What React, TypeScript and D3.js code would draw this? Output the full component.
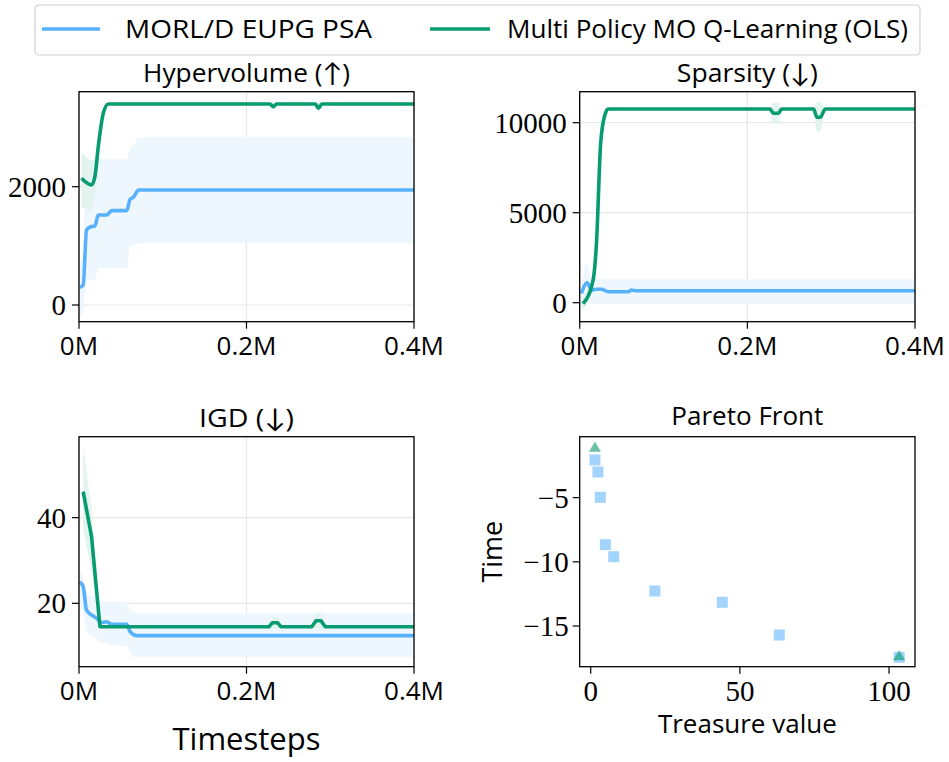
import React from "react";
import * as d3 from "d3";

// ---------- data ----------
const SERIES_NAMES = ["MORL/D EUPG PSA", "Multi Policy MO Q-Learning (OLS)"];
const X_TICKS = [0, 0.2, 0.4];
const X_TICK_LABELS = ["0M", "0.2M", "0.4M"];

// Hypervolume
const HV_BLUE_X = [0.001, 0.005, 0.009, 0.014, 0.019, 0.023, 0.033, 0.039, 0.057, 0.061, 0.065, 0.071, 0.4];
const HV_BLUE = [299, 338, 1268, 1324, 1336, 1522, 1522, 1595, 1595, 1787, 1821, 1944, 1944];
const HV_BLUE_LO = [-200, -100, 420, 423, 430, 620, 620, 620, 620, 986, 1000, 1043, 1043];
const HV_BLUE_HI = [700, 900, 2400, 2400, 2401, 2468, 2468, 2468, 2468, 2649, 2700, 2835, 2835];
const HV_GREEN_X = [0.003, 0.015, 0.019, 0.023, 0.029, 0.035, 0.228, 0.232, 0.236, 0.282, 0.286, 0.29, 0.4];
const HV_GREEN = [2142, 2029, 2169, 2676, 3241, 3398, 3398, 3352, 3398, 3398, 3325, 3398, 3398];
const HV_GREEN_LO = [1650, 1600, 1900, 2500, 3200, 3380, 3380, 3300, 3380, 3380, 3260, 3380, 3380];
const HV_GREEN_HI = [2600, 2450, 2450, 2850, 3280, 3420, 3420, 3420, 3420, 3420, 3420, 3420, 3420];
const HV_Y_TICKS = [0, 2000];

// Sparsity
const SP_BLUE_X = [0.002, 0.009, 0.014, 0.02, 0.026, 0.034, 0.058, 0.062, 0.066, 0.4];
const SP_BLUE = [522, 1111, 706, 744, 744, 611, 611, 706, 667, 667];
const SP_BLUE_LO = [-400, -100, 0, 0, 0, 0, 0, 0, 0, 0];
const SP_BLUE_HI = [1000, 2189, 1300, 1300, 1300, 1300, 1300, 1350, 1300, 1300];
const SP_GREEN_X = [0.004, 0.016, 0.02, 0.025, 0.03, 0.034, 0.227, 0.231, 0.237, 0.241, 0.279, 0.283, 0.287, 0.293, 0.4];
const SP_GREEN = [-50, 1261, 3300, 8855, 10428, 10761, 10761, 10522, 10522, 10761, 10761, 10300, 10300, 10761, 10761];
const SP_GREEN_LO = [-400, 800, 3000, 8600, 10300, 10700, 10700, 9950, 9950, 10700, 10700, 9500, 9500, 10700, 10700];
const SP_GREEN_HI = [300, 1700, 3600, 9100, 10550, 10820, 10820, 11100, 11100, 10820, 10820, 11150, 11150, 10820, 10820];
const SP_Y_TICKS = [0, 5000, 10000];

// IGD
const IGD_BLUE_X = [0.001, 0.005, 0.009, 0.015, 0.021, 0.027, 0.033, 0.039, 0.057, 0.061, 0.069, 0.4];
const IGD_BLUE = [25.0, 23.9, 18.4, 17.3, 16.5, 15.5, 15.7, 15.1, 15.1, 13.4, 12.45, 12.45];
const IGD_BLUE_LO = [20, 18, 13.8, 12.5, 11.8, 10.7, 10.7, 10.2, 9.9, 8.5, 7.4, 7.4];
const IGD_BLUE_HI = [27.4, 26, 22.5, 21.8, 21.5, 20.4, 20.4, 20.4, 20.4, 18.5, 17.7, 17.7];
const IGD_GREEN_X = [0.005, 0.015, 0.025, 0.227, 0.231, 0.237, 0.241, 0.278, 0.283, 0.289, 0.294, 0.4];
const IGD_GREEN = [46.06, 35.55, 14.54, 14.54, 15.47, 15.47, 14.54, 14.54, 15.94, 15.94, 14.54, 14.54];
const IGD_GREEN_LO = [37, 28, 14.4, 14.4, 14.0, 14.0, 14.4, 14.4, 14.0, 14.0, 14.4, 14.4];
const IGD_GREEN_HI = [56.6, 42, 14.7, 14.7, 16.8, 16.8, 14.7, 14.7, 17.8, 17.8, 14.7, 14.7];
const IGD_Y_TICKS = [20, 40];

// Pareto front
const PF_BLUE_X = [1.4, 2.4, 3.2, 4.9, 7.7, 21.5, 44.1, 63.2, 103.4];
const PF_BLUE_Y = [-2.06, -3.0, -4.97, -8.66, -9.6, -12.27, -13.15, -15.7, -17.44];
const PF_GREEN_X = [1.4, 103.4];
const PF_GREEN_Y = [-1.08, -17.33];
const PF_X_TICKS = [0, 50, 100];
const PF_Y_TICKS = [-5, -10, -15];

// ---------- style ----------
const BLUE = "#58b1fb";
const GREEN = "#069b70";
const BLUE_BAND = "#eef6fe";
const GREEN_BAND = "#e3f3ee";
const SANS = "'Open Sans', Lato, sans-serif";
const SERIF = "'Liberation Serif', 'DejaVu Serif', serif";
const W = 949;
const H = 762;
const LW = 3.6;

type Box = { l: number; r: number; t: number; b: number };
type Series = { x: number[]; y: number[]; lo: number[]; hi: number[]; color: string; band: string; linear?: boolean };

const fmtMinus = (v: number) => (v < 0 ? "\u2212" + Math.abs(v) : String(v));

function LinePanel(props: {
  id: string;
  box: Box;
  title: string;
  titleLen: number;
  yDomain: [number, number];
  yTicks: number[];
  series: Series[];
}) {
  const { id, box, title, titleLen, yDomain, yTicks, series } = props;
  const x = d3.scaleLinear().domain([0, 0.4]).range([box.l, box.r]);
  const y = d3.scaleLinear().domain(yDomain).range([box.b, box.t]);
  const cx = (box.l + box.r) / 2;
  return (
    <g>
      <defs>
        <clipPath id={"clip-" + id}>
          <rect x={box.l} y={box.t} width={box.r - box.l} height={box.b - box.t} />
        </clipPath>
      </defs>
      {yTicks.map((t) => (
        <line key={"gy" + t} x1={box.l} x2={box.r} y1={y(t)} y2={y(t)} stroke="#e8e8e8" strokeWidth={1.2} />
      ))}
      {X_TICKS.map((t) => (
        <line key={"gx" + t} x1={x(t)} x2={x(t)} y1={box.t} y2={box.b} stroke="#e8e8e8" strokeWidth={1.2} />
      ))}
      <g clipPath={`url(#clip-${id})`}>
        {series.map((s, i) => {
          const idx = d3.range(s.x.length);
          const area = d3
            .area<number>()
            .x((j) => x(s.x[j]))
            .y0((j) => y(s.lo[j]))
            .y1((j) => y(s.hi[j]))
            .curve(s.linear ? d3.curveLinear : d3.curveMonotoneX);
          return <path key={"a" + i} d={area(idx) || ""} fill={s.band} stroke="none" />;
        })}
        {series.map((s, i) => {
          const idx = d3.range(s.x.length);
          const line = d3
            .line<number>()
            .x((j) => x(s.x[j]))
            .y((j) => y(s.y[j]))
            .curve(s.linear ? d3.curveLinear : d3.curveMonotoneX);
          return (
            <path key={"l" + i} d={line(idx) || ""} fill="none" stroke={s.color} strokeWidth={LW} strokeLinejoin="round" />
          );
        })}
      </g>
      <rect x={box.l} y={box.t} width={box.r - box.l} height={box.b - box.t} fill="none" stroke="#000" strokeWidth={1.3} />
      {yTicks.map((t) => (
        <g key={"yt" + t}>
          <line x1={box.l - 7} x2={box.l} y1={y(t)} y2={y(t)} stroke="#000" strokeWidth={1.2} />
          <text x={box.l - 13} y={y(t)} dy="0.35em" textAnchor="end" fontFamily={SERIF} fontSize={29}>
            {fmtMinus(t)}
          </text>
        </g>
      ))}
      {X_TICKS.map((t, i) => (
        <g key={"xt" + t}>
          <line x1={x(t)} x2={x(t)} y1={box.b} y2={box.b + 7} stroke="#000" strokeWidth={1.2} />
          <text x={x(t)} y={box.b + 33} textAnchor="middle" fontFamily={SANS} fontSize={26}>
            {X_TICK_LABELS[i]}
          </text>
        </g>
      ))}
      <text
        x={cx}
        y={box.t - 10}
        textAnchor="middle"
        fontFamily={SANS}
        fontSize={26}
        textLength={titleLen}
        lengthAdjust="spacingAndGlyphs"
      >
        {title}
      </text>
    </g>
  );
}

function ParetoPanel(props: { box: Box }) {
  const { box } = props;
  const x = d3.scaleLinear().domain([-3.7, 108.7]).range([box.l, box.r]);
  const y = d3.scaleLinear().domain([-18.17, -0.25]).range([box.b, box.t]);
  const cx = (box.l + box.r) / 2;
  const sq = 11;
  const tri = d3.symbol().type(d3.symbolTriangle).size(62);
  return (
    <g>
      <rect x={box.l} y={box.t} width={box.r - box.l} height={box.b - box.t} fill="none" stroke="#000" strokeWidth={1.3} />
      {PF_BLUE_X.map((v, i) => (
        <rect
          key={"b" + i}
          x={x(v) - sq / 2}
          y={y(PF_BLUE_Y[i]) - sq / 2}
          width={sq}
          height={sq}
          fill={BLUE}
          fillOpacity={0.55}
        />
      ))}
      {PF_GREEN_X.map((v, i) => (
        <path
          key={"g" + i}
          d={tri() || ""}
          transform={`translate(${x(v)},${y(PF_GREEN_Y[i]) + 1})`}
          fill={GREEN}
          fillOpacity={0.6}
        />
      ))}
      {PF_Y_TICKS.map((t) => (
        <g key={"yt" + t}>
          <line x1={box.l - 7} x2={box.l} y1={y(t)} y2={y(t)} stroke="#000" strokeWidth={1.2} />
          <text x={box.l - 11} y={y(t)} dy="0.35em" textAnchor="end" fontFamily={SERIF} fontSize={29}>
            {fmtMinus(t)}
          </text>
        </g>
      ))}
      {PF_X_TICKS.map((t) => (
        <g key={"xt" + t}>
          <line x1={x(t)} x2={x(t)} y1={box.b} y2={box.b + 7} stroke="#000" strokeWidth={1.2} />
          <text x={x(t)} y={box.b + 34} textAnchor="middle" fontFamily={SERIF} fontSize={29}>
            {t}
          </text>
        </g>
      ))}
      <text
        x={cx}
        y={box.t - 12}
        textAnchor="middle"
        fontFamily={SANS}
        fontSize={26}
        textLength={152}
        lengthAdjust="spacingAndGlyphs"
      >
        Pareto Front
      </text>
      <text x={cx} y={box.b + 66} textAnchor="middle" fontFamily={SANS} fontSize={26}>
        Treasure value
      </text>
      <text
        transform={`translate(${box.l - 78},${(box.t + box.b) / 2}) rotate(-90)`}
        textAnchor="middle"
        fontFamily={SANS}
        fontSize={27}
      >
        Time
      </text>
    </g>
  );
}

export default function App() {
  const P1: Box = { l: 79, r: 414, t: 91.7, b: 321.7 };
  const P2: Box = { l: 579.7, r: 915, t: 91.7, b: 321.7 };
  const P3: Box = { l: 79, r: 414, t: 436.7, b: 666.7 };
  const P4: Box = { l: 579.7, r: 915, t: 436.7, b: 666.7 };
  return (
    <svg width={W} height={H} style={{ position: "absolute", left: 0, top: 0, background: "#fff" }}>
      <rect x={0} y={0} width={W} height={H} fill="#fff" />
      <rect x={35} y={5} width={885} height={50} rx={4} fill="#fff" stroke="#d0d0d0" strokeWidth={1.2} />
      <line x1={42} x2={100} y1={29} y2={29} stroke={BLUE} strokeWidth={LW} />
      <text
        x={125}
        y={29}
        dy="0.36em"
        fontFamily={SANS}
        fontSize={26}
        textLength={247}
        lengthAdjust="spacingAndGlyphs"
      >
        {SERIES_NAMES[0]}
      </text>
      <line x1={430} x2={490} y1={29} y2={29} stroke={GREEN} strokeWidth={LW} />
      <text
        x={507}
        y={29}
        dy="0.36em"
        fontFamily={SANS}
        fontSize={26}
        textLength={401}
        lengthAdjust="spacingAndGlyphs"
      >
        {SERIES_NAMES[1]}
      </text>

      <LinePanel
        id="hv"
        box={P1}
        title={"Hypervolume (\u2191)"}
        titleLen={207}
        yDomain={[-282, 3606]}
        yTicks={HV_Y_TICKS}
        series={[
          { x: HV_BLUE_X, y: HV_BLUE, lo: HV_BLUE_LO, hi: HV_BLUE_HI, color: BLUE, band: BLUE_BAND },
          { x: HV_GREEN_X, y: HV_GREEN, lo: HV_GREEN_LO, hi: HV_GREEN_HI, color: GREEN, band: GREEN_BAND },
        ]}
      />
      <LinePanel
        id="sp"
        box={P2}
        title={"Sparsity (\u2193)"}
        titleLen={141}
        yDomain={[-1055, 11722]}
        yTicks={SP_Y_TICKS}
        series={[
          { x: SP_BLUE_X, y: SP_BLUE, lo: SP_BLUE_LO, hi: SP_BLUE_HI, color: BLUE, band: BLUE_BAND },
          { x: SP_GREEN_X, y: SP_GREEN, lo: SP_GREEN_LO, hi: SP_GREEN_HI, color: GREEN, band: GREEN_BAND },
        ]}
      />
      <LinePanel
        id="igd"
        box={P3}
        title={"IGD (\u2193)"}
        titleLen={95}
        yDomain={[5.2, 58.9]}
        yTicks={IGD_Y_TICKS}
        series={[
          { x: IGD_BLUE_X, y: IGD_BLUE, lo: IGD_BLUE_LO, hi: IGD_BLUE_HI, color: BLUE, band: BLUE_BAND },
          { x: IGD_GREEN_X, y: IGD_GREEN, lo: IGD_GREEN_LO, hi: IGD_GREEN_HI, color: GREEN, band: GREEN_BAND, linear: true },
        ]}
      />
      <text x={(P3.l + P3.r) / 2} y={750} textAnchor="middle" fontFamily={SANS} fontSize={31}>
        Timesteps
      </text>
      <ParetoPanel box={P4} />
    </svg>
  );
}
